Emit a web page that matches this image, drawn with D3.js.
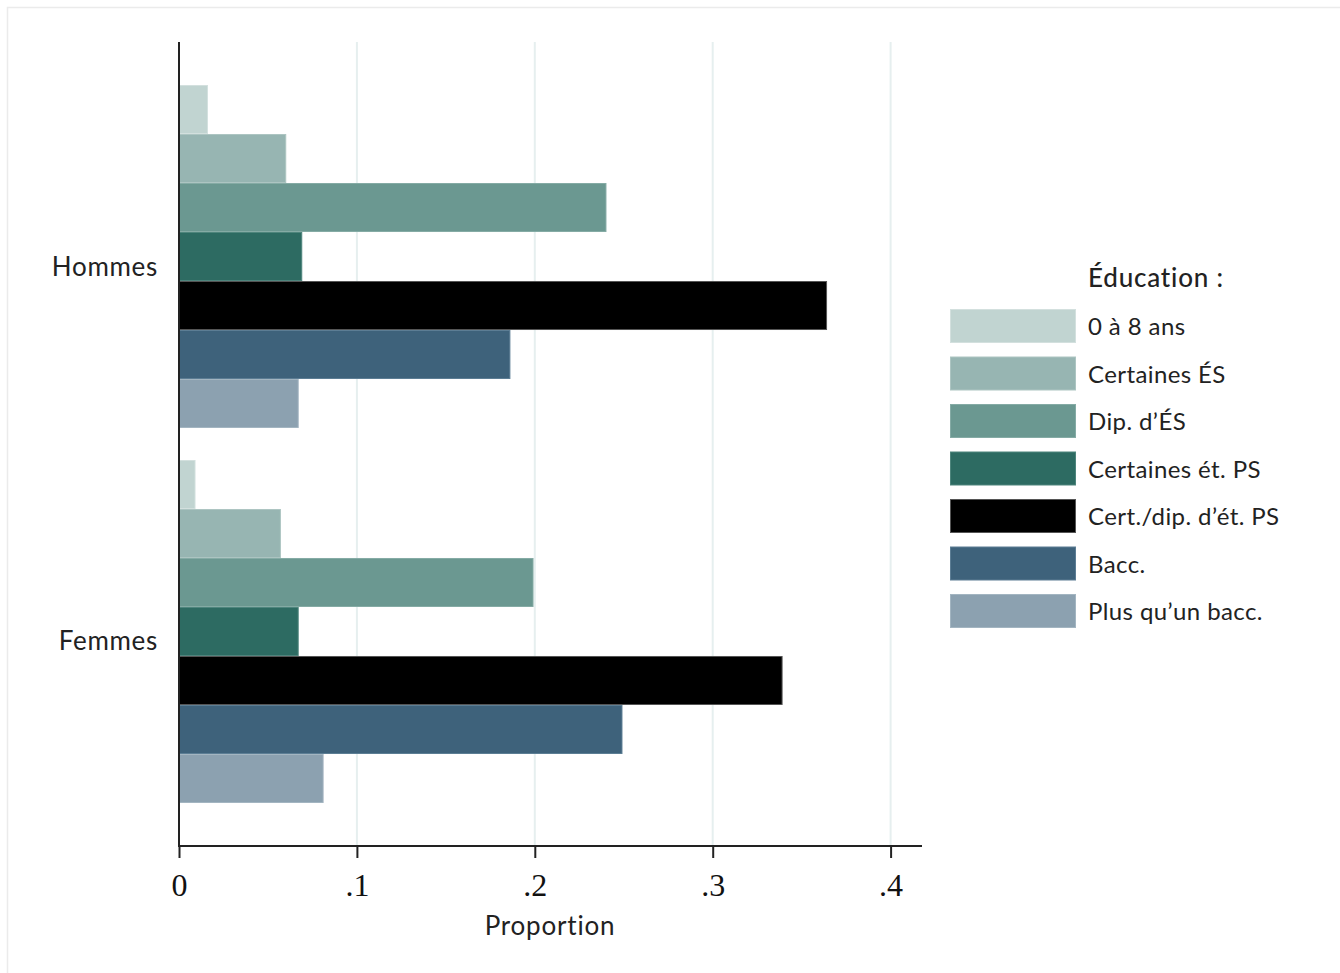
<!DOCTYPE html>
<html><head><meta charset="utf-8">
<script src="https://cdn.jsdelivr.net/npm/d3@7"></script>
<style>body{margin:0;background:#fff}svg{display:block}</style>
</head><body>
<script>
const groups = ["Hommes", "Femmes"];
const series = ["0 à 8 ans", "Certaines ÉS", "Dip. d’ÉS", "Certaines ét. PS", "Cert./dip. d’ét. PS", "Bacc.", "Plus qu’un bacc."];
const hommes = [0.016, 0.060, 0.240, 0.069, 0.364, 0.186, 0.067];
const femmes = [0.009, 0.057, 0.199, 0.067, 0.339, 0.249, 0.081];
const ticks = [0, 0.1, 0.2, 0.3, 0.4];
const tickLabels = ["0", ".1", ".2", ".3", ".4"];
const colors = ["#c1d4d1", "#97b5b2", "#6b9891", "#2d6b62", "#000000", "#3e627b", "#8ca1b0"];
const strokes = ["#d3e0de", "#adc5c2", "#85aba5", "#4e857c", "#555555", "#5c7d94", "#a3b5c1"];
const values = {Hommes: hommes, Femmes: femmes};

(function () {
const W = 1340, H = 973;
const FONT = "Lato, 'Noto Sans', sans-serif";
const svg = d3.select("body").append("svg").attr("width", W).attr("height", H);
svg.append("rect").attr("x", 7.5).attr("y", 7.5).attr("width", W).attr("height", H)
  .attr("fill", "#fff").attr("stroke", "#ebebeb").attr("stroke-width", 1.5);

const pL = 179, pR = 922, pT = 42, pB = 846;
const x = d3.scaleLinear().domain([0, 0.4]).range([pL, pL + 1779 * 0.4]);
const y = d3.scaleBand().domain(groups).range([pT, pB]).paddingInner(0.0853).paddingOuter(0.1147);
const yi = d3.scaleBand().domain(series).range([0, y.bandwidth()]);

// gridlines
svg.append("g").selectAll("line").data(ticks.slice(1)).join("line")
  .attr("x1", d => x(d)).attr("x2", d => x(d)).attr("y1", pT).attr("y2", pB)
  .attr("stroke", "#e6efef").attr("stroke-width", 2);

// bars
groups.forEach(g => {
  svg.append("g").selectAll("rect").data(series).join("rect")
    .attr("x", x(0))
    .attr("y", (s) => y(g) + yi(s) + 0.5)
    .attr("width", (s, i) => x(values[g][i]) - x(0))
    .attr("height", yi.bandwidth() - 1)
    .attr("fill", (s, i) => colors[i])
    .attr("stroke", (s, i) => strokes[i]).attr("stroke-width", 1);
});

// y axis
svg.append("line").attr("x1", pL).attr("x2", pL).attr("y1", pT).attr("y2", pB)
  .attr("stroke", "#222").attr("stroke-width", 2);
svg.append("g").selectAll("text").data(groups).join("text")
  .attr("x", 158).attr("y", d => y(d) + y.bandwidth() / 2 + 19)
  .attr("text-anchor", "end").attr("font-family", FONT)
  .attr("font-size", 26).attr("letter-spacing", 0.7).attr("fill", "#222").text(d => d);

// x axis
const xa = svg.append("g").attr("transform", `translate(0,${pB})`)
  .call(d3.axisBottom(x).tickValues(ticks).tickFormat((d, i) => tickLabels[i]).tickSize(12).tickPadding(15).tickSizeOuter(0));
xa.select(".domain").remove();
xa.selectAll(".tick line").attr("stroke", "#222").attr("stroke-width", 2);
xa.selectAll(".tick text").attr("font-family", "'Liberation Serif', 'DejaVu Serif', serif")
  .attr("font-size", 32).attr("fill", "#111");
svg.append("line").attr("x1", pL - 1).attr("x2", pR).attr("y1", pB).attr("y2", pB)
  .attr("stroke", "#222").attr("stroke-width", 2);
svg.append("text").attr("x", 550).attr("y", 935).attr("text-anchor", "middle")
  .attr("font-family", FONT).attr("font-size", 26).attr("letter-spacing", 0.8).attr("fill", "#222").text("Proportion");

// legend
const lg = svg.append("g");
lg.append("text").attr("x", 1088).attr("y", 287).attr("font-family", FONT)
  .attr("font-size", 26).attr("font-weight", 500).attr("letter-spacing", 0.8).attr("fill", "#222").text("Éducation :");
const ly = d3.scaleBand().domain(series).range([309, 309 + 47.5 * 7]);
lg.selectAll("rect").data(series).join("rect")
  .attr("x", 950.5).attr("y", d => ly(d) + 0.5).attr("width", 125).attr("height", 33)
  .attr("fill", (d, i) => colors[i]).attr("stroke", (d, i) => strokes[i]).attr("stroke-width", 1);
lg.selectAll("text.lab").data(series).join("text").attr("class", "lab")
  .attr("x", 1088).attr("y", d => ly(d) + 26).attr("font-family", FONT)
  .attr("font-size", 24).attr("letter-spacing", 0.4).attr("fill", "#222").text(d => d);
})();
</script>
</body></html>
